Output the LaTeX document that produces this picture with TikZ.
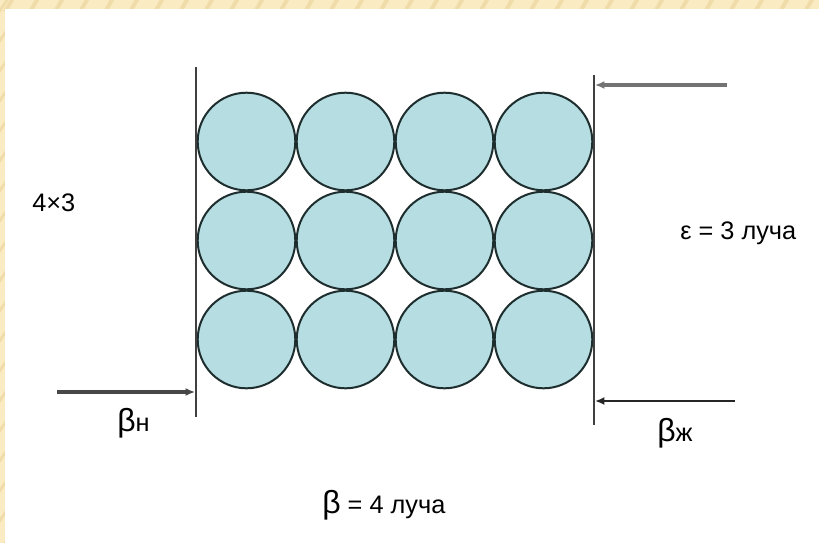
\documentclass[tikz,border=0pt]{standalone}
\usepackage{fontspec}
\setmainfont{Liberation Sans}
\usetikzlibrary{arrows.meta}
\definecolor{parch}{HTML}{FAEBC2}
\definecolor{parchd}{HTML}{F0DCA8}
\definecolor{ball}{HTML}{B5DDE2}
\definecolor{ballline}{HTML}{1E2E2E}
\tikzset{
 ballnode/.style={circle, draw=ballline, line width=1.5pt, fill=ball, minimum size=73.2pt, inner sep=0pt},
 wall/.style={draw=black!75, line width=2pt},
 ray/.style={line width=2pt, draw=black!75, -{Latex[length=7pt,width=6pt]}},
 lbl/.style={font=\fontsize{19}{22}\selectfont, inner sep=0pt, anchor=west}
}
\begin{document}
\begin{tikzpicture}[x=0.75pt,y=-0.75pt]
\useasboundingbox (0,0) rectangle (819,543);
\fill[parch] (0,0) rectangle (819,543);
\begin{scope}
\clip (0,0) rectangle (819,9) (0,0) rectangle (5,543);
\foreach \i in {-20,5,...,860} \draw[parchd, line width=3pt] (\i,12) -- (\i+8,-2);
\foreach \j in {0,30,...,560} \draw[parchd, line width=2pt] (-1,\j+12) -- (7,\j);
\end{scope}
\fill[white] (5,9) rectangle (819,543);
% balls
\foreach \c [count=\ci] in {246.5,345.5,444.5,543.5}
  \foreach \r [count=\ri] in {141.5,240.5,339.5}
    \node[ballnode] (b\ri\ci) at (\c,\r) {};
% walls
\coordinate (wl1) at (196,67);
\coordinate (wl2) at (196,417);
\coordinate (wr1) at (594,75);
\coordinate (wr2) at (594,425);
\draw[wall] (wl1) -- (wl2);
\draw[wall] (wr1) -- (wr2);
% rays
\coordinate (s1) at (727,85);
\coordinate (t1) at (595,85);
\coordinate (s2) at (57,392);
\coordinate (t2) at (195,392);
\coordinate (s3) at (735,401);
\coordinate (t3) at (595,401);
\draw[ray, line width=3.2pt, draw=black!55] (s1) -- (t1);
\draw[ray, line width=3pt, draw=black!72] (s2) -- (t2);
\draw[ray, line width=2.2pt, draw=black!85] (s3) -- (t3);
% labels
\node[lbl] (l43) at (32,203) {4×3};
\node[lbl] (leps) at (680,233) {ε = 3 луча};
\node[lbl] (lbn) at (117,423) {{\fontsize{24}{26}\selectfont β}н};
\node[lbl] (lbz) at (657,433) {{\fontsize{24}{26}\selectfont β}ж};
\node[lbl] (lb) at (322,505) {{\fontsize{24}{26}\selectfont β} = 4 луча};
\end{tikzpicture}
\end{document}
